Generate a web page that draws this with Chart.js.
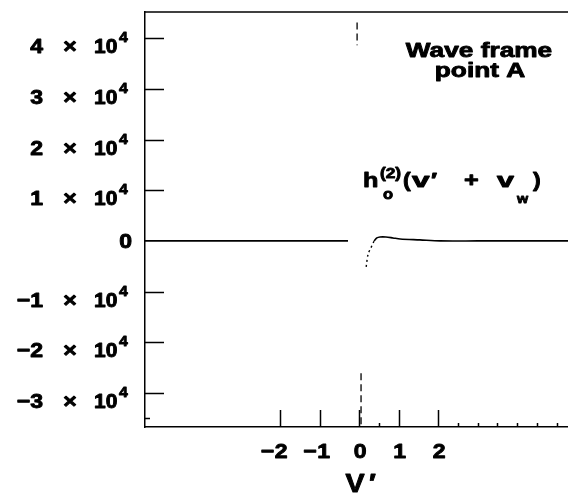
<!DOCTYPE html>
<html>
<head>
<meta charset="utf-8">
<script src="https://cdn.jsdelivr.net/npm/chart.js@4/dist/chart.umd.min.js"></script>
<style>
  html, body { margin: 0; padding: 0; background: #fff; }
  #wrap { width: 568px; height: 494px; }
</style>
</head>
<body>
<div id="wrap"><canvas id="wave"></canvas></div>
<script>
// flat part of h left of the spike
var leftX = [-5.42, -4, -3, -2, -1, -0.28];
var leftY = [0, 0, 0, 0, 0, 0];
// dotted lead-in right of the spike
var leadX = [0.18, 0.23, 0.30, 0.38];
var leadY = [-5100, -2550, -1370, 0];
// recovery right of the spike
var rightX = [0.38, 0.45, 0.53, 0.68, 0.86, 1.04, 1.54, 2.05, 3, 4, 5.29];
var rightY = [0, 590, 780, 780, 590, 390, 200, 0, 0, 0, 0];
// spike at v' = 0 running off the top and bottom
var spikeTopY = [43100, 38600];
var spikeBotY = [-26100, -36700];

var xTicks = [-2, -1, 0, 1, 2];
var xMinor = [0.5, 2.5, 3, 3.5, 4, 4.5, 5];
var yTicks = [40000, 30000, 20000, 10000, 0, -10000, -20000, -30000];
var yMant = ["4", "3", "2", "1", "0", "\u22121", "\u22122", "\u22123"];
var yMinor = [-35000];

function pts(xs, ys) {
    return xs.map(function (x, i) { return {x: x, y: ys[i]}; });
}

var FONT = "'Liberation Sans', Arial, Helvetica, sans-serif";

// heavy, slightly extended text like the scanned original
function txt(c, s, x, y, size, align, sx) {
    c.save();
    c.translate(x, y);
    c.scale(sx || 1.2, 1);
    c.font = "bold " + size + "px " + FONT;
    c.textAlign = align || "left";
    c.textBaseline = "alphabetic";
    c.lineWidth = 0.9;
    c.lineJoin = "round";
    c.fillText(s, 0, 0);
    c.strokeText(s, 0, 0);
    c.restore();
}

var decor = {
    id: "decor",
    afterDraw: function (chart) {
        var c = chart.ctx, a = chart.chartArea;
        var xs = chart.scales.x, ys = chart.scales.y;
        c.save();
        c.strokeStyle = "#000";
        c.fillStyle = "#000";
        c.lineWidth = 1.5;
        // top frame line
        c.beginPath();
        c.moveTo(a.left, a.top);
        c.lineTo(a.right, a.top);
        c.stroke();
        // inward ticks
        c.beginPath();
        yTicks.forEach(function (v) {
            var y = Math.round(ys.getPixelForValue(v)) + 0.5;
            if (v !== 0) { c.moveTo(a.left, y); c.lineTo(a.left + 19, y); }
        });
        yMinor.forEach(function (v) {
            var y = Math.round(ys.getPixelForValue(v)) + 0.5;
            c.moveTo(a.left, y); c.lineTo(a.left + 5, y);
        });
        xTicks.forEach(function (v) {
            var x = Math.round(xs.getPixelForValue(v)) + 0.5;
            c.moveTo(x, a.bottom); c.lineTo(x, a.bottom - 17);
        });
        xMinor.forEach(function (v) {
            var x = Math.round(xs.getPixelForValue(v)) + 0.5;
            c.moveTo(x, a.bottom); c.lineTo(x, a.bottom - 4);
        });
        c.stroke();

        // y tick labels: n x 10^4
        yTicks.forEach(function (v, i) {
            var y = ys.getPixelForValue(v);
            if (v === 0) {
                txt(c, "0", 132, y + 7, 20, "right", 1.15);
                return;
            }
            txt(c, yMant[i], 43, y + 15, 20, "right", 1.15);
            txt(c, "\u00d7", 70, y + 15, 20, "center", 1.15);
            txt(c, "10", 94, y + 15, 20, "left", 1.05);
            txt(c, "4", 119, y + 4, 15, "left", 1.05);
        });

        // x tick labels
        xTicks.forEach(function (v) {
            var x = xs.getPixelForValue(v);
            var dx = v === -1 ? 4 : 1;
            txt(c, String(Math.abs(v)), x + dx, 458, 20, "center", 1.15);
            if (v < 0) txt(c, "\u2212", x + dx - 7, 458, 20, "right", 1.15);
        });
        // axis title
        txt(c, "V", 355, 492, 26, "center", 1.1);
        txt(c, "\u2032", 369, 492, 26, "left", 1.1);

        // annotations
        txt(c, "Wave frame", 479, 57, 21, "center", 1.25);
        txt(c, "point A", 480, 77, 21, "center", 1.25);

        txt(c, "h", 363, 187, 21, "left", 1.2);
        txt(c, "(2)", 380, 178, 15, "left", 1.15);
        txt(c, "o", 383, 199, 15, "left", 1.1);
        txt(c, "(", 403, 187, 21, "left", 1.1);
        txt(c, "v", 412, 187, 21, "left", 1.5);
        txt(c, "\u2032", 431, 187, 21, "left", 1.2);
        txt(c, "+", 464, 187, 21, "left", 1.2);
        txt(c, "v", 497, 187, 21, "left", 1.45);
        txt(c, "w", 517, 203, 13, "left", 1.1);
        txt(c, ")", 533, 187, 21, "left", 1.1);
        c.restore();
    }
};

var lineStyle = {
    showLine: true, fill: false, pointRadius: 0, tension: 0.3,
    borderColor: "#000", borderWidth: 1.6
};

new Chart(document.getElementById("wave"), {
    type: "scatter",
    data: {
        datasets: [
            Object.assign({label: "left", data: pts(leftX, leftY)}, lineStyle),
            Object.assign({label: "lead", data: pts(leadX, leadY)}, lineStyle, {borderDash: [2, 3], borderWidth: 1.4}),
            Object.assign({label: "right", data: pts(rightX, rightY)}, lineStyle),
            Object.assign({label: "spikeTop", data: pts([-0.05, -0.05], spikeTopY)}, lineStyle, {borderDash: [7, 4], borderWidth: 1.3, tension: 0}),
            Object.assign({label: "spikeBot", data: pts([0.05, 0.05], spikeBotY)}, lineStyle, {borderDash: [7, 4], borderWidth: 1.3, tension: 0})
        ]
    },
    options: {
        responsive: true,
        maintainAspectRatio: false,
        animation: false,
        devicePixelRatio: 1,
        layout: {padding: {left: 145, top: 12, right: 0, bottom: 67}},
        plugins: {legend: {display: false}, tooltip: {enabled: false}},
        scales: {
            x: {
                type: "linear", min: -5.42, max: 5.29,
                ticks: {display: false},
                grid: {display: false, drawTicks: false},
                border: {display: true, color: "#000", width: 1.5}
            },
            y: {
                type: "linear", min: -36700, max: 45150,
                ticks: {display: false},
                grid: {display: false, drawTicks: false},
                border: {display: true, color: "#000", width: 1.5}
            }
        }
    },
    plugins: [decor]
});
</script>
</body>
</html>
